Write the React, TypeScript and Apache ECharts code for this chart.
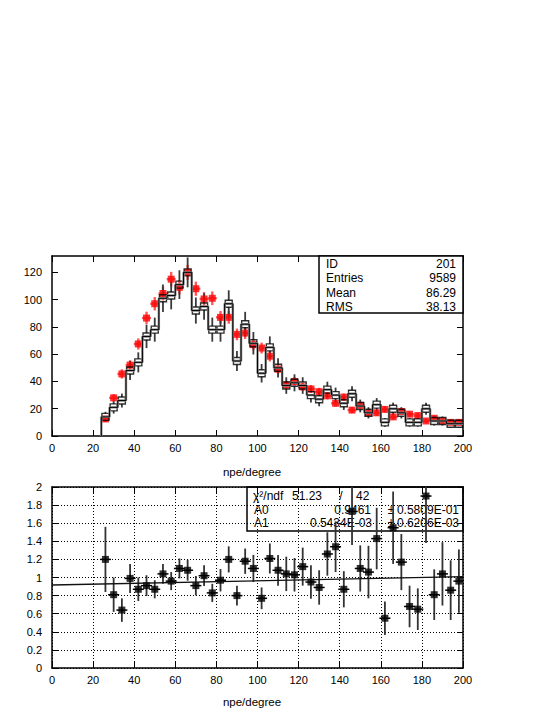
import React, { useEffect, useRef } from "react";
import * as echarts from "echarts";

// ---- data ----
const binCenters = [
  26, 30, 34, 38, 42, 46, 50, 54, 58, 62, 66, 70, 74, 78, 82, 86, 90, 94, 98, 102, 106, 110,
  114, 118, 122, 126, 130, 134, 138, 142, 146, 150, 154, 158, 162, 166, 170, 174, 178, 182,
  186, 190, 194, 198,
];
const binHalfWidth = 2;

const dataCounts = [
  14, 21, 26, 48, 54, 73, 78, 101, 103, 111, 120, 92, 95, 78, 78, 97, 55, 82, 68, 46, 65, 50,
  37, 39, 37, 30, 27, 34, 30, 24, 31, 22, 17, 23, 10, 20, 17, 10, 10, 20, 11, 11, 9, 9,
];

const refCounts = [
  12.5, 28, 45.5, 52, 67.5, 86.5, 97, 104.5, 115, 109, 120, 108, 100.5, 101, 87, 87, 74.5, 75.5,
  67, 64.5, 58.5, 49, 37.5, 40, 36, 34.5, 32.5, 29.5, 24, 28.5, 19, 22.5, 17, 17, 19.5, 14, 18,
  16, 15, 11, 13, 11, 10, 10,
];

const ratioValues = [
  1.2, 0.81, 0.64, 0.99, 0.87, 0.91, 0.87, 1.04, 0.96, 1.1, 1.08, 0.91, 1.02, 0.83, 0.97, 1.2,
  0.8, 1.18, 1.1, 0.77, 1.21, 1.08, 1.04, 1.03, 1.12, 0.95, 0.89, 1.26, 1.34, 0.87, 1.73, 1.1,
  1.06, 1.43, 0.55, 1.55, 1.17, 0.68, 0.65, 1.9, 0.81, 1.04, 0.86, 0.96,
];

const ratioErrors = [
  0.36, 0.19, 0.13, 0.16, 0.13, 0.115, 0.1, 0.11, 0.1, 0.11, 0.115, 0.107, 0.115, 0.1, 0.124,
  0.144, 0.11, 0.14, 0.15, 0.12, 0.166, 0.17, 0.19, 0.185, 0.21, 0.185, 0.19, 0.24, 0.28, 0.2,
  0.37, 0.255, 0.29, 0.34, 0.185, 0.4, 0.31, 0.23, 0.23, 0.52, 0.28, 0.35, 0.33, 0.35,
];

// drawn fit line (visual)
const fitIntercept = 0.917;
const fitSlope = 0.00046;
const fitRange = [0, 200];

const topStatsLabels = ["ID", "Entries", "Mean", "RMS"];
const topStatsValues = ["201", "9589", "86.29", "38.13"];

const chi2Text = "51.23";
const ndfText = "42";
const a0Value = "0.9461";
const a0Error = "0.5809E-01";
const a1Value = "0.5434E-03";
const a1Error = "0.6206E-03";

const FONT = "Liberation Sans";

export default function App() {
  const ref = useRef<HTMLDivElement>(null);

  useEffect(() => {
    if (!ref.current) return;
    const chart = echarts.init(ref.current, null, { renderer: "svg" });

    const steps: number[][] = [[binCenters[0] - binHalfWidth, 0]];
    binCenters.forEach((c, i) => {
      steps.push([c - binHalfWidth, dataCounts[i]]);
      steps.push([c + binHalfWidth, dataCounts[i]]);
    });

    const dataPts = binCenters.map((c, i) => [c, dataCounts[i], Math.sqrt(dataCounts[i])]);
    const refPts = binCenters.map((c, i) => [c, refCounts[i], 0.5 * Math.sqrt(refCounts[i])]);
    const ratioPts = binCenters.map((c, i) => [c, ratioValues[i], ratioErrors[i]]);
    const fitPts = fitRange.map((x) => [x, fitIntercept + fitSlope * x]);

    const labelStyle = { color: "#000", fontSize: 11, fontFamily: FONT };

    const mkX = (grid: number, pos: "bottom" | "top", labels: boolean, split: boolean) => ({
      type: "value",
      gridIndex: grid,
      position: pos,
      min: 0,
      max: 200,
      interval: 20,
      axisLine: { show: true, onZero: false, lineStyle: { color: "#000", width: 1.5 } },
      axisTick: { show: true, inside: true, length: 6, lineStyle: { color: "#000", width: 1 } },
      axisLabel: { show: labels, margin: 6, ...labelStyle },
      splitLine: {
        show: split,
        lineStyle: { color: "#000", width: 1, type: [1, 2] },
      },
    });

    const mkY = (
      grid: number,
      pos: "left" | "right",
      labels: boolean,
      split: boolean,
      max: number,
      interval: number
    ) => ({
      type: "value",
      gridIndex: grid,
      position: pos,
      min: 0,
      max,
      interval,
      axisLine: { show: true, onZero: false, lineStyle: { color: "#000", width: 1.5 } },
      axisTick: { show: true, inside: true, length: 6, lineStyle: { color: "#000", width: 1 } },
      axisLabel: {
        show: labels,
        margin: 10,
        showMaxLabel: grid === 0 ? false : true,
        formatter: (v: number) => String(Math.round(v * 10) / 10),
        ...labelStyle,
      },
      splitLine: {
        show: split,
        lineStyle: { color: "#000", width: 1, type: [1, 2] },
      },
    });

    const redCross = (params: any, api: any) => {
      const x = api.value(0);
      const v = api.value(1);
      const e = api.value(2);
      const c = api.coord([x, v]);
      const t = api.coord([x, v + e]);
      const b = api.coord([x, v - e]);
      const st = { stroke: "#ff5a5a", lineWidth: 2.4 };
      return {
        type: "group",
        children: [
          { type: "line", shape: { x1: c[0], y1: t[1], x2: c[0], y2: b[1] }, style: st },
          { type: "line", shape: { x1: c[0] - 4.5, y1: c[1], x2: c[0] + 4.5, y2: c[1] }, style: st },
        ],
      };
    };

    const blackErr = (params: any, api: any) => {
      const x = api.value(0);
      const v = api.value(1);
      const e = api.value(2);
      const c = api.coord([x, v]);
      const t = api.coord([x, v + e]);
      const b = api.coord([x, Math.max(0, v - e)]);
      const h = 3.5;
      const st = { stroke: "#3a3a3a", lineWidth: 1.8 };
      const children: any[] = [];
      if (t[1] < c[1] - h)
        children.push({ type: "line", shape: { x1: c[0], y1: t[1], x2: c[0], y2: c[1] - h }, style: st });
      if (b[1] > c[1] + h)
        children.push({ type: "line", shape: { x1: c[0], y1: c[1] + h, x2: c[0], y2: b[1] }, style: st });
      children.push({
        type: "line",
        shape: { x1: c[0] - h, y1: c[1], x2: c[0] + h, y2: c[1] },
        style: { stroke: "#000", lineWidth: 1 },
      });
      return { type: "group", children };
    };

    const ratioErr = (params: any, api: any) => {
      const x = api.value(0);
      const v = api.value(1);
      const e = api.value(2);
      const c = api.coord([x, v]);
      const t = api.coord([x, Math.min(2, v + e)]);
      const b = api.coord([x, Math.max(0, v - e)]);
      return {
        type: "group",
        children: [
          {
            type: "line",
            shape: { x1: c[0], y1: t[1], x2: c[0], y2: b[1] },
            style: { stroke: "#333", lineWidth: 1.8 },
          },
          {
            type: "line",
            shape: { x1: c[0] - 5.5, y1: c[1], x2: c[0] + 5.5, y2: c[1] },
            style: { stroke: "#000", lineWidth: 1.5 },
          },
        ],
      };
    };

    const txt = (
      x: number,
      y: number,
      text: string,
      align: "left" | "right" | "center" = "left",
      z = 10
    ) => ({
      type: "text",
      x,
      y,
      z,
      style: {
        text,
        fill: "#000",
        font: `12px "${FONT}"`,
        textAlign: align,
        textVerticalAlign: "middle",
      },
    });

    const topRows = [263.5, 278, 292.5, 307];
    const botRows = [496, 509.5, 523];

    const graphic: any[] = [
      {
        type: "rect",
        z: 50,
        shape: { x: 319, y: 256, width: 144, height: 57 },
        style: { fill: "#fff", stroke: "#000", lineWidth: 1.5 },
      },
      ...topStatsLabels.map((l, i) => txt(326, topRows[i], l, "left", 51)),
      ...topStatsValues.map((v, i) => txt(456, topRows[i], v, "right", 51)),
      {
        type: "rect",
        z: 1,
        shape: { x: 247, y: 487, width: 216, height: 44 },
        style: { fill: "none", stroke: "#000", lineWidth: 1.5 },
      },
      txt(253, botRows[0], "χ²/ndf", "left", 1),
      txt(292, botRows[0], chi2Text, "left", 1),
      txt(341, botRows[0], "/", "center", 1),
      txt(356, botRows[0], ndfText, "left", 1),
      txt(254, botRows[1], "A0", "left", 1),
      txt(371, botRows[1], a0Value, "right", 1),
      txt(391, botRows[1], "±", "center", 1),
      txt(459, botRows[1], a0Error, "right", 1),
      txt(254, botRows[2], "A1", "left", 1),
      txt(372, botRows[2], a1Value, "right", 1),
      txt(391, botRows[2], "±", "center", 1),
      txt(459, botRows[2], a1Error, "right", 1),
      {
        type: "text",
        x: 252,
        y: 472,
        style: {
          text: "npe/degree",
          fill: "#000",
          font: `11.5px "${FONT}"`,
          textAlign: "center",
          textVerticalAlign: "middle",
        },
      },
      {
        type: "text",
        x: 252,
        y: 702,
        style: {
          text: "npe/degree",
          fill: "#000",
          font: `11.5px "${FONT}"`,
          textAlign: "center",
          textVerticalAlign: "middle",
        },
      },
    ];

    chart.setOption({
      animation: false,
      backgroundColor: "#fff",
      grid: [
        { left: 52, top: 256, width: 411, height: 180 },
        { left: 52, top: 487, width: 411, height: 181 },
      ],
      xAxis: [
        mkX(0, "bottom", true, false),
        mkX(0, "top", false, false),
        mkX(1, "bottom", true, true),
        mkX(1, "top", false, false),
      ],
      yAxis: [
        mkY(0, "left", true, false, 132, 20),
        mkY(0, "right", false, false, 132, 20),
        mkY(1, "left", true, true, 2, 0.2),
        mkY(1, "right", false, false, 2, 0.2),
      ],
      graphic,
      series: [
        {
          type: "custom",
          xAxisIndex: 0,
          yAxisIndex: 0,
          data: refPts,
          renderItem: redCross,
          clip: true,
          silent: true,
        },
        {
          type: "scatter",
          xAxisIndex: 0,
          yAxisIndex: 0,
          data: refPts.map((p) => [p[0], p[1]]),
          symbol: "rect",
          symbolSize: 7,
          itemStyle: { color: "#ff0000" },
          silent: true,
        },
        {
          type: "line",
          xAxisIndex: 0,
          yAxisIndex: 0,
          data: steps,
          symbol: "none",
          lineStyle: { color: "#8a8a8a", width: 2.4 },
          silent: true,
        },
        {
          type: "line",
          xAxisIndex: 0,
          yAxisIndex: 0,
          data: steps,
          symbol: "none",
          lineStyle: { color: "#000", width: 1 },
          silent: true,
        },
        {
          type: "scatter",
          xAxisIndex: 0,
          yAxisIndex: 0,
          data: dataPts.map((p) => [p[0], p[1]]),
          symbol: "rect",
          symbolSize: 7,
          itemStyle: { color: "rgba(0,0,0,0)", borderColor: "#000", borderWidth: 1.4 },
          silent: true,
        },
        {
          type: "custom",
          xAxisIndex: 0,
          yAxisIndex: 0,
          data: dataPts,
          renderItem: blackErr,
          clip: true,
          silent: true,
        },
        {
          type: "line",
          xAxisIndex: 2,
          yAxisIndex: 2,
          data: fitPts,
          symbol: "none",
          lineStyle: { color: "#111", width: 1.3 },
          silent: true,
        },
        {
          type: "custom",
          xAxisIndex: 2,
          yAxisIndex: 2,
          data: ratioPts,
          renderItem: ratioErr,
          clip: true,
          silent: true,
        },
        {
          type: "scatter",
          xAxisIndex: 2,
          yAxisIndex: 2,
          data: ratioPts.map((p) => [p[0], p[1]]),
          symbol: "rect",
          symbolSize: 7,
          itemStyle: { color: "#000" },
          silent: true,
        },
      ],
    });

    return () => chart.dispose();
  }, []);

  return (
    <div
      ref={ref}
      style={{ position: "absolute", left: 0, top: 0, width: 556, height: 720, background: "#fff" }}
    />
  );
}
